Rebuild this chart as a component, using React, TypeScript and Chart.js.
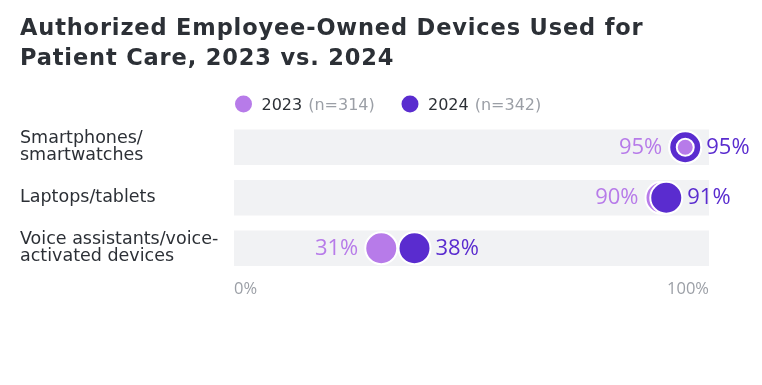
import React, { useEffect, useRef } from "react";
import { Chart, registerables } from "chart.js";

Chart.register(...registerables);

const titleLines = ["Authorized Employee-Owned Devices Used for", "Patient Care, 2023 vs. 2024"];
const categories = [["Smartphones/", "smartwatches"], ["Laptops/tablets"], ["Voice assistants/voice-", "activated devices"]];
const values2023 = [95, 90, 31];
const values2024 = [95, 91, 38];
const seriesNames = ["2023", "2024"];
const sampleSizes = ["(n=314)", "(n=342)"];
const axisTicks = [0, 100];
const barFull = [100, 100, 100];

const C2023 = "#b77be9";
const C2024 = "#5a2ccf";
const DARK = "#2c3036";
const GRAY = "#9b9fa6";
const FONT = "'DejaVu Sans', sans-serif";
const LIGHT = "'Open Sans', sans-serif";

export default function App() {
  const ref = useRef<HTMLCanvasElement>(null);
  useEffect(() => {
    const ctx = ref.current!.getContext("2d")!;
    const tieOverlay = values2023.map((v, i) => (v === values2024[i] ? v : null));

    const decor = {
      id: "decor",
      afterDraw(chart: any) {
        const c = chart.ctx;
        c.save();
        c.fillStyle = DARK;
        c.textBaseline = "alphabetic";
        c.textAlign = "left";
        c.font = `700 22.5px ${FONT}`;
        (c as any).letterSpacing = "0.85px";
        c.fillText(titleLines[0], 20, 35);
        c.fillText(titleLines[1], 20, 65);
        (c as any).letterSpacing = "0px";
        // legend
        const lx = [243.5, 410];
        const cols = [C2023, C2024];
        for (let i = 0; i < 2; i++) {
          c.beginPath();
          c.arc(lx[i], 104, 8.5, 0, Math.PI * 2);
          c.fillStyle = cols[i];
          c.fill();
          c.font = `400 16px ${FONT}`;
          c.fillStyle = DARK;
          const tx = lx[i] + 18;
          c.fillText(seriesNames[i], tx, 110);
          const w = c.measureText(seriesNames[i]).width;
          c.fillStyle = GRAY;
          c.fillText(sampleSizes[i], tx + w + 6, 110);
        }
        c.restore();
      },
      afterDatasetsDraw(chart: any) {
        const c = chart.ctx;
        const m23 = chart.getDatasetMeta(1);
        const m24 = chart.getDatasetMeta(2);
        c.save();
        c.font = `400 22px ${LIGHT}`;
        c.textBaseline = "middle";
        for (let i = 0; i < values2023.length; i++) {
          const p23 = m23.data[i];
          const p24 = m24.data[i];
          const r = 16;
          const left = Math.min(p23.x, p24.x) - r - 7;
          const right = Math.max(p23.x, p24.x) + r + 5;
          c.fillStyle = C2023;
          c.textAlign = "right";
          c.fillText(values2023[i] + "%", left, p23.y);
          c.fillStyle = C2024;
          c.textAlign = "left";
          c.fillText(values2024[i] + "%", right, p24.y);
        }
        c.restore();
      },
    };

    const chart = new Chart(ctx, {
      type: "bar",
      data: {
        labels: categories as any,
        datasets: [
          {
            type: "bar",
            label: "bg",
            data: barFull,
            backgroundColor: "#f1f2f4",
            barThickness: 35,
            order: 10,
          } as any,
          {
            type: "line",
            label: seriesNames[0],
            data: values2023,
            showLine: false,
            indexAxis: "y",
            pointRadius: 16,
            pointHoverRadius: 16,
            pointBackgroundColor: C2023,
            pointBorderColor: "#ffffff",
            pointBorderWidth: 2,
            order: 3,
          },
          {
            type: "line",
            label: seriesNames[1],
            data: values2024,
            showLine: false,
            indexAxis: "y",
            pointRadius: 16,
            pointHoverRadius: 16,
            pointBackgroundColor: C2024,
            pointBorderColor: "#ffffff",
            pointBorderWidth: 2,
            order: 2,
          },
          {
            type: "line",
            label: "tie",
            data: tieOverlay,
            showLine: false,
            indexAxis: "y",
            pointRadius: 8.5,
            pointHoverRadius: 8.5,
            pointBackgroundColor: C2023,
            pointBorderColor: "#ffffff",
            pointBorderWidth: 2,
            order: 1,
          },
        ],
      },
      options: {
        indexAxis: "y",
        responsive: false,
        animation: false,
        events: [],
        layout: { padding: { left: 20, right: 53, top: 122, bottom: 81.5 } },
        plugins: { legend: { display: false }, tooltip: { enabled: false }, title: { display: false } },
        scales: {
          x: {
            type: "linear",
            min: axisTicks[0],
            max: axisTicks[axisTicks.length - 1],
            grid: { display: false, drawTicks: false },
            border: { display: false },
            afterFit: (s: any) => {
              s.height = 30;
            },
            afterBuildTicks: (s: any) => {
              s.ticks = axisTicks.map((v) => ({ value: v }));
            },
            ticks: {
              align: "inner",
              padding: 6,
              color: GRAY,
              font: { family: LIGHT, size: 16.5, weight: "400" },
              callback: (v: any) => v + "%",
            },
          },
          y: {
            type: "category",
            grid: { display: false, drawTicks: false },
            border: { display: false },
            afterFit: (s: any) => {
              s.width = 214;
            },
            ticks: {
              crossAlign: "far",
              color: DARK,
              font: { family: FONT, size: 17.5, weight: "400", lineHeight: 0.97 },
            },
          },
        },
      },
      plugins: [decor],
    } as any);
    return () => chart.destroy();
  }, []);
  return (
    <div style={{ position: "fixed", left: 0, top: 0, width: 762, height: 385, background: "#fff" }}>
      <canvas ref={ref} width={762} height={385} />
    </div>
  );
}
